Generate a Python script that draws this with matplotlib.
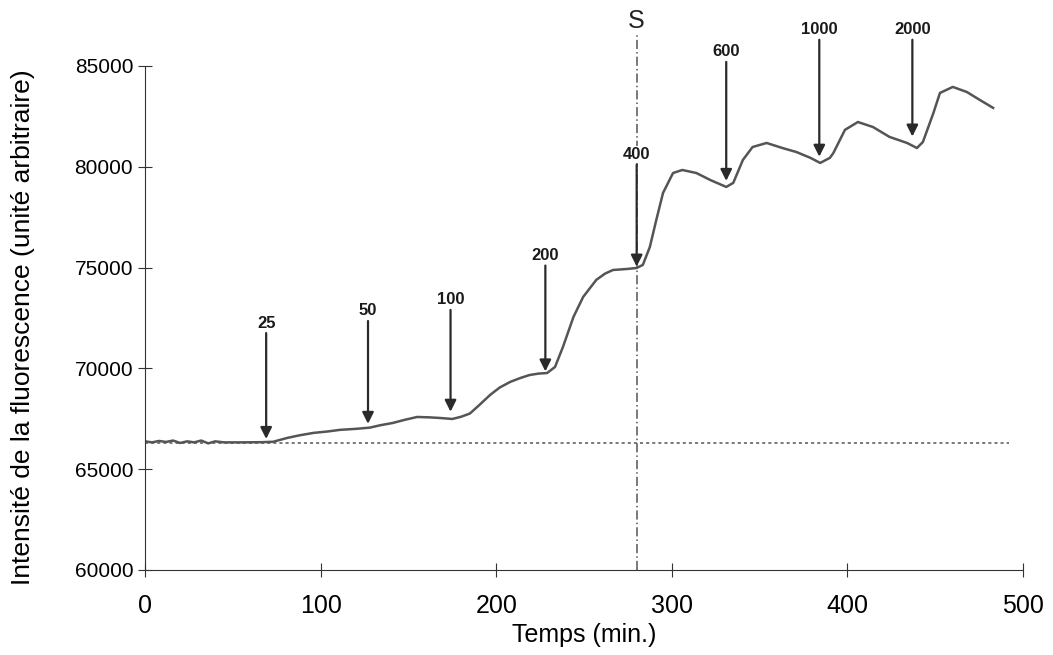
import matplotlib.pyplot as plt

# fluorescence trace
temps = [0, 4, 8, 12, 16, 20, 24, 28, 32, 36, 40, 45, 55, 67, 73, 81, 88, 96, 104,
         111, 120, 128, 134, 141, 148, 155, 162, 168, 175, 180, 185, 190, 196.5, 202,
         208, 214, 219, 224, 229, 233.5, 238, 244, 249.5, 257, 262, 266.5, 274.5, 280,
         283.5, 287.5, 291, 295, 300.7, 306, 314, 322, 331, 335, 340.5, 346, 354, 363,
         371, 379, 384.5, 390, 392, 398.6, 406, 414.6, 424, 434, 439.6, 443, 449,
         452.7, 460, 468, 475.5, 483]
intensite = [66380, 66330, 66400, 66350, 66420, 66300, 66380, 66330, 66420, 66280, 66380,
             66330, 66330, 66340, 66360, 66550, 66680, 66800, 66870,
             66950, 67000, 67060, 67180, 67290, 67450, 67590, 67570, 67540, 67490, 67600,
             67760, 68150, 68680, 69050, 69330, 69530, 69670, 69740, 69770, 70070, 71060,
             72550, 73540, 74390, 74700, 74880, 74930, 74980, 75130, 76020, 77300, 78700,
             79690, 79840, 79690, 79340, 79000, 79200, 80340, 80980, 81180, 80930, 80730,
             80440, 80190, 80440, 80680, 81830, 82220, 81970, 81480, 81180, 80930, 81230,
             82670, 83660, 83960, 83710, 83310, 82920]

baseline = 66300
baseline_end = 492
ligne_s = 280

# additions: label, time, label height, arrow tip
ajouts = ['25', '50', '100', '200', '400', '600', '1000', '2000']
ajout_t = [69, 127, 174, 228, 280, 331, 384, 437]
ajout_label_y = [72250, 72850, 73400, 75600, 80600, 85700, 86800, 86800]
ajout_tip_y = [66500, 67250, 67850, 69850, 75050, 79300, 80500, 81500]

plt.rcParams['font.family'] = ['Liberation Sans', 'DejaVu Sans']

fig = plt.figure(figsize=(10.53, 6.55), dpi=100)
ax = fig.add_axes([0.1377, 0.1298, 0.8338, 0.7695])

ax.plot(temps, intensite, color='#555555', linewidth=1.8, solid_joinstyle='round')
ax.plot([0, baseline_end], [baseline, baseline], color='#555555',
        linestyle=(0, (2, 2)), linewidth=1.1)
ax.plot([ligne_s, ligne_s], [60000, 86650], color='#555555',
        linestyle=(0, (6, 2, 1, 2)), linewidth=1.1, clip_on=False)
ax.text(ligne_s, 87250, 'S', ha='center', va='center', fontsize=18, color='#222222')

for lab, t, ly, ty in zip(ajouts, ajout_t, ajout_label_y, ajout_tip_y):
    bbox = dict(facecolor='white', edgecolor='none', pad=1) if lab == '400' else None
    ax.text(t, ly, lab, ha='center', va='center', fontsize=12, fontweight='bold',
            color='#1a1a1a', bbox=bbox, zorder=4)
    ax.annotate('', xy=(t, ty), xytext=(t, ly - 500),
                arrowprops=dict(arrowstyle='-|>', color='#2a2a2a', lw=1.6,
                                mutation_scale=17, shrinkA=0, shrinkB=0),
                annotation_clip=False, zorder=5)

ax.set_xlim(0, 500)
ax.set_ylim(60000, 85000)
ax.set_xticks([0, 100, 200, 300, 400, 500])
ax.set_yticks([60000, 65000, 70000, 75000, 80000, 85000])
ax.spines['top'].set_visible(False)
ax.spines['right'].set_visible(False)
ax.spines['left'].set_color('#333333')
ax.spines['bottom'].set_color('#333333')
ax.tick_params(direction='inout', length=10, labelsize=15, color='#333333')
ax.tick_params(axis='x', pad=12, labelsize=18)
ax.set_xlabel('Temps (min.)', fontsize=18, labelpad=4)
ax.set_ylabel('Intensité de la fluorescence (unité arbitraire)', fontsize=19)
ax.yaxis.set_label_coords(-0.125, 0.482)

fig.savefig('out.png', dpi=100)
